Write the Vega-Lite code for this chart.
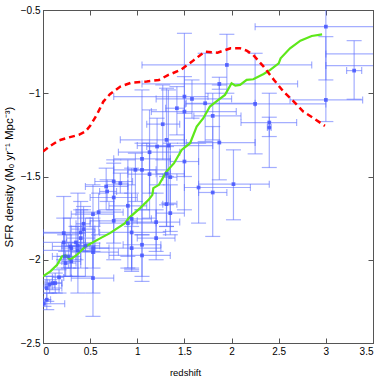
{
  "$schema": "https://vega.github.io/schema/vega-lite/v6.json",
  "width": 330,
  "height": 333,
  "autosize": "none",
  "padding": {"left": 43, "top": 10, "right": 9, "bottom": 39},
  "background": "white",
  "config": {
    "view": {"stroke": "#555555", "strokeWidth": 1},
    "axis": {"grid": false, "domainColor": "#555555", "tickColor": "#555555", "labelColor": "#000000", "labelFont": "Liberation Sans", "labelFontSize": 10, "titleFont": "Liberation Sans", "titleFontWeight": "normal", "titleColor": "#000000", "tickSize": -5, "labelPadding": 8}
  },
  "datasets": {
    "pts": [
      {"z": 3.0, "s": -0.6, "zl": 2.25, "zh": 3.75, "sl": -0.92, "sh": -0.4},
      {"z": 3.0, "s": -1.04, "zl": 2.62, "zh": 3.39, "sl": -1.17, "sh": -0.66},
      {"z": 4.0, "s": -0.764, "zl": 3.0, "zh": 5.0, "sl": -0.9, "sh": -0.6},
      {"z": 4.0, "s": -0.834, "zl": 3.0, "zh": 5.0, "sl": -0.95, "sh": -0.7},
      {"z": 3.3, "s": -0.864, "zl": 3.22, "zh": 3.38, "sl": -1.036, "sh": -0.684},
      {"z": 2.4, "s": -1.176, "zl": 2.1, "zh": 2.69, "sl": -1.26, "sh": -1.144},
      {"z": 2.4, "s": -1.206, "zl": 2.38, "zh": 2.42, "sl": -1.446, "sh": -1.0},
      {"z": 2.25, "s": -1.064, "zl": 1.51, "zh": 3.0, "sl": -1.364, "sh": -0.76},
      {"z": 1.95, "s": -0.83, "zl": 1.05, "zh": 2.85, "sl": -1.0, "sh": -0.646},
      {"z": 1.87, "s": -0.944, "zl": 1.05, "zh": 2.7, "sl": -0.976, "sh": -0.904},
      {"z": 1.72, "s": -1.06, "zl": 1.52, "zh": 2.25, "sl": -1.29, "sh": -0.76},
      {"z": 1.8, "s": -1.136, "zl": 1.6, "zh": 2.1, "sl": -1.28, "sh": -1.0},
      {"z": 1.87, "s": -1.296, "zl": 1.52, "zh": 2.25, "sl": -1.52, "sh": -0.95},
      {"z": 1.5, "s": -1.02, "zl": 0.75, "zh": 1.75, "sl": -1.3, "sh": -0.64},
      {"z": 1.5, "s": -1.11, "zl": 1.15, "zh": 2.05, "sl": -1.5, "sh": -0.9},
      {"z": 1.5, "s": -1.41, "zl": 1.35, "zh": 1.65, "sl": -1.7, "sh": -1.12},
      {"z": 1.58, "s": -1.034, "zl": 1.2, "zh": 2.0, "sl": -1.15, "sh": -0.92},
      {"z": 1.42, "s": -1.09, "zl": 1.3, "zh": 1.5, "sl": -1.25, "sh": -0.96},
      {"z": 1.27, "s": -1.186, "zl": 1.1, "zh": 1.45, "sl": -1.4, "sh": -0.95},
      {"z": 1.31, "s": -1.28, "zl": 0.82, "zh": 1.5, "sl": -1.8, "sh": -0.97},
      {"z": 1.33, "s": -1.314, "zl": 1.0, "zh": 1.8, "sl": -1.66, "sh": -0.98},
      {"z": 1.21, "s": -1.32, "zl": 1.1, "zh": 1.35, "sl": -1.55, "sh": -1.15},
      {"z": 1.13, "s": -1.354, "zl": 0.8, "zh": 1.45, "sl": -1.6, "sh": -1.1},
      {"z": 1.05, "s": -1.394, "zl": 0.75, "zh": 1.35, "sl": -1.85, "sh": -0.98},
      {"z": 0.98, "s": -1.46, "zl": 0.75, "zh": 1.2, "sl": -1.65, "sh": -1.36},
      {"z": 1.05, "s": -1.46, "zl": 0.9, "zh": 1.35, "sl": -1.7, "sh": -1.3},
      {"z": 1.13, "s": -1.486, "zl": 0.9, "zh": 1.35, "sl": -1.75, "sh": -1.3},
      {"z": 1.31, "s": -1.484, "zl": 1.2, "zh": 1.5, "sl": -1.67, "sh": -1.32},
      {"z": 1.35, "s": -1.504, "zl": 1.27, "zh": 1.42, "sl": -1.85, "sh": -1.3},
      {"z": 0.75, "s": -1.53, "zl": 0.55, "zh": 0.95, "sl": -1.7, "sh": -1.4},
      {"z": 0.82, "s": -1.54, "zl": 0.75, "zh": 0.9, "sl": -1.6, "sh": -1.48},
      {"z": 0.67, "s": -1.56, "zl": 0.45, "zh": 0.9, "sl": -1.7, "sh": -1.45},
      {"z": 0.68, "s": -1.59, "zl": 0.6, "zh": 0.78, "sl": -1.65, "sh": -1.52},
      {"z": 0.75, "s": -1.626, "zl": 0.5, "zh": 1.0, "sl": -1.9, "sh": -1.42},
      {"z": 0.59, "s": -1.714, "zl": 0.35, "zh": 0.85, "sl": -1.85, "sh": -1.6},
      {"z": 0.53, "s": -1.726, "zl": 0.3, "zh": 0.75, "sl": -1.9, "sh": -1.55},
      {"z": 0.75, "s": -1.766, "zl": 0.5, "zh": 1.0, "sl": -2.0, "sh": -1.55},
      {"z": 0.9, "s": -1.676, "zl": 0.7, "zh": 1.1, "sl": -1.98, "sh": -1.4},
      {"z": 0.94, "s": -1.754, "zl": 0.75, "zh": 1.15, "sl": -2.06, "sh": -1.45},
      {"z": 0.9, "s": -1.78, "zl": 0.6, "zh": 1.2, "sl": -2.05, "sh": -1.55},
      {"z": 0.94, "s": -1.836, "zl": 0.6, "zh": 1.3, "sl": -2.05, "sh": -1.6},
      {"z": 0.94, "s": -1.93, "zl": 0.55, "zh": 1.25, "sl": -2.07, "sh": -1.8},
      {"z": 1.05, "s": -1.91, "zl": 0.85, "zh": 1.25, "sl": -2.1, "sh": -1.7},
      {"z": 1.05, "s": -1.974, "zl": 0.7, "zh": 1.35, "sl": -2.13, "sh": -1.85},
      {"z": 1.2, "s": -1.774, "zl": 0.95, "zh": 1.45, "sl": -1.95, "sh": -1.6},
      {"z": 1.2, "s": -1.87, "zl": 1.0, "zh": 1.4, "sl": -2.0, "sh": -1.7},
      {"z": 1.35, "s": -1.72, "zl": 1.2, "zh": 1.5, "sl": -1.83, "sh": -1.55},
      {"z": 1.31, "s": -1.666, "zl": 1.27, "zh": 1.42, "sl": -1.8, "sh": -1.5},
      {"z": 0.53, "s": -2.11, "zl": 0.3, "zh": 0.75, "sl": -2.34, "sh": -1.95},
      {"z": 0.53, "s": -1.954, "zl": 0.3, "zh": 0.8, "sl": -2.2, "sh": -1.75},
      {"z": 0.53, "s": -1.93, "zl": 0.35, "zh": 0.7, "sl": -2.05, "sh": -1.8},
      {"z": 0.45, "s": -1.916, "zl": 0.3, "zh": 0.6, "sl": -2.1, "sh": -1.75},
      {"z": 0.22, "s": -1.84, "zl": 0.0, "zh": 0.45, "sl": -2.0, "sh": -1.62},
      {"z": 0.22, "s": -1.896, "zl": 0.0, "zh": 0.4, "sl": -2.05, "sh": -1.75},
      {"z": 0.23, "s": -1.98, "zl": 0.1, "zh": 0.4, "sl": -2.1, "sh": -1.85},
      {"z": 0.24, "s": -2.02, "zl": 0.15, "zh": 0.35, "sl": -2.1, "sh": -1.95},
      {"z": 0.29, "s": -1.92, "zl": 0.1, "zh": 0.5, "sl": -2.1, "sh": -1.75},
      {"z": 0.3, "s": -1.93, "zl": 0.2, "zh": 0.45, "sl": -2.05, "sh": -1.85},
      {"z": 0.37, "s": -1.916, "zl": 0.2, "zh": 0.55, "sl": -2.2, "sh": -1.6},
      {"z": 0.35, "s": -1.896, "zl": 0.25, "zh": 0.45, "sl": -2.0, "sh": -1.8},
      {"z": 0.4, "s": -1.87, "zl": 0.25, "zh": 0.55, "sl": -2.05, "sh": -1.65},
      {"z": 0.4, "s": -1.836, "zl": 0.0, "zh": 0.55, "sl": -1.95, "sh": -1.7},
      {"z": 0.43, "s": -1.784, "zl": 0.35, "zh": 0.5, "sl": -1.9, "sh": -1.68},
      {"z": 0.43, "s": -1.816, "zl": 0.3, "zh": 0.55, "sl": -1.95, "sh": -1.7},
      {"z": 0.37, "s": -1.944, "zl": 0.0, "zh": 0.55, "sl": -2.1, "sh": -1.8},
      {"z": 0.3, "s": -2.01, "zl": 0.2, "zh": 0.4, "sl": -2.1, "sh": -1.92},
      {"z": 0.27, "s": -1.98, "zl": 0.15, "zh": 0.35, "sl": -2.05, "sh": -1.9},
      {"z": 0.17, "s": -2.106, "zl": 0.1, "zh": 0.22, "sl": -2.2, "sh": -2.06},
      {"z": 0.13, "s": -2.14, "zl": 0.05, "zh": 0.2, "sl": -2.2, "sh": -2.08},
      {"z": 0.1, "s": -2.14, "zl": 0.03, "zh": 0.2, "sl": -2.18, "sh": -2.1},
      {"z": 0.07, "s": -2.15, "zl": 0.02, "zh": 0.12, "sl": -2.2, "sh": -2.12},
      {"z": 0.04, "s": -2.17, "zl": 0.0, "zh": 0.2, "sl": -2.25, "sh": -2.1},
      {"z": 0.04, "s": -2.24, "zl": 0.0, "zh": 0.08, "sl": -2.3, "sh": -2.2},
      {"z": 0.01, "s": -2.264, "zl": 0.0, "zh": 0.23, "sl": -2.28, "sh": -2.24},
      {"z": 1.65, "s": -1.566, "zl": 1.5, "zh": 2.2, "sl": -1.78, "sh": -1.3},
      {"z": 1.8, "s": -1.596, "zl": 1.65, "zh": 1.95, "sl": -1.86, "sh": -1.2},
      {"z": 2.02, "s": -1.546, "zl": 1.65, "zh": 2.4, "sl": -1.76, "sh": -1.34}
    ],
    "green": [
      {"z": 0, "s": -2.1}, {"z": 0.078, "s": -2.07}, {"z": 0.15, "s": -2.03}, {"z": 0.2, "s": -1.98},
      {"z": 0.24, "s": -1.974}, {"z": 0.29, "s": -2.0}, {"z": 0.36, "s": -1.97}, {"z": 0.45, "s": -1.92},
      {"z": 0.61, "s": -1.87}, {"z": 0.71, "s": -1.84}, {"z": 0.87, "s": -1.78}, {"z": 0.91, "s": -1.75},
      {"z": 1.03, "s": -1.69}, {"z": 1.12, "s": -1.64}, {"z": 1.16, "s": -1.61}, {"z": 1.17, "s": -1.57},
      {"z": 1.23, "s": -1.55}, {"z": 1.31, "s": -1.47}, {"z": 1.39, "s": -1.42}, {"z": 1.47, "s": -1.34},
      {"z": 1.56, "s": -1.3}, {"z": 1.63, "s": -1.2}, {"z": 1.7, "s": -1.15}, {"z": 1.77, "s": -1.08},
      {"z": 1.86, "s": -1.04}, {"z": 1.93, "s": -1.01}, {"z": 2.0, "s": -0.94}, {"z": 2.04, "s": -0.954},
      {"z": 2.09, "s": -0.95}, {"z": 2.16, "s": -0.92}, {"z": 2.23, "s": -0.916}, {"z": 2.34, "s": -0.884},
      {"z": 2.41, "s": -0.86}, {"z": 2.5, "s": -0.82}, {"z": 2.52, "s": -0.79}, {"z": 2.62, "s": -0.73},
      {"z": 2.73, "s": -0.684}, {"z": 2.85, "s": -0.656}, {"z": 2.96, "s": -0.646}
    ],
    "red": [
      {"z": 0, "s": -1.35}, {"z": 0.078, "s": -1.316}, {"z": 0.166, "s": -1.284}, {"z": 0.27, "s": -1.266},
      {"z": 0.38, "s": -1.25}, {"z": 0.45, "s": -1.23}, {"z": 0.5, "s": -1.196}, {"z": 0.57, "s": -1.13},
      {"z": 0.64, "s": -1.05}, {"z": 0.71, "s": -1.006}, {"z": 0.82, "s": -0.96}, {"z": 0.94, "s": -0.936},
      {"z": 1.1, "s": -0.93}, {"z": 1.23, "s": -0.92}, {"z": 1.33, "s": -0.89}, {"z": 1.46, "s": -0.86},
      {"z": 1.58, "s": -0.81}, {"z": 1.67, "s": -0.77}, {"z": 1.72, "s": -0.75}, {"z": 1.85, "s": -0.756},
      {"z": 1.99, "s": -0.73}, {"z": 2.09, "s": -0.73}, {"z": 2.16, "s": -0.744}, {"z": 2.23, "s": -0.77},
      {"z": 2.34, "s": -0.84}, {"z": 2.45, "s": -0.92}, {"z": 2.55, "s": -0.99}, {"z": 2.66, "s": -1.05},
      {"z": 2.76, "s": -1.11}, {"z": 2.87, "s": -1.15}, {"z": 2.99, "s": -1.196}
    ]
  },
  "layer": [
    {
      "data": {"name": "pts"},
      "mark": {"type": "rule", "color": "#5a6cff", "opacity": 0.55, "strokeWidth": 1.2, "clip": true},
      "encoding": {
        "x": {"field": "zl", "type": "quantitative", "scale": {"domain": [0, 3.5], "nice": false, "zero": false},
              "axis": {"orient": "bottom", "values": [0, 0.5, 1, 1.5, 2, 2.5, 3, 3.5], "format": "~g", "title": "redshift", "titleFontSize": 9.5, "titlePadding": 11, "titleX": 142, "titleAlign": "center"}},
        "x2": {"field": "zh"},
        "y": {"field": "s", "type": "quantitative", "scale": {"domain": [-2.5, -0.5], "nice": false, "zero": false},
              "axis": {"orient": "left", "values": [-2.5, -2, -1.5, -1, -0.5], "format": "~g", "title": "SFR density (Mₒ yr⁻¹ Mpc⁻³)", "titleFontSize": 11.5, "titlePadding": 6}}
      }
    },
    {
      "data": {"name": "pts"},
      "mark": {"type": "rule", "color": "#5a6cff", "opacity": 0.55, "strokeWidth": 1.2, "clip": true},
      "encoding": {
        "x": {"field": "z", "type": "quantitative", "axis": null},
        "y": {"field": "sl", "type": "quantitative", "axis": null},
        "y2": {"field": "sh"}
      }
    },
    {
      "data": {"name": "pts"},
      "mark": {"type": "tick", "orient": "horizontal", "color": "#5a6cff", "opacity": 0.55, "thickness": 1.2, "size": 15, "clip": true},
      "encoding": {
        "x": {"field": "z", "type": "quantitative", "axis": null},
        "y": {"field": "sl", "type": "quantitative", "axis": null}
      }
    },
    {
      "data": {"name": "pts"},
      "mark": {"type": "tick", "orient": "horizontal", "color": "#5a6cff", "opacity": 0.55, "thickness": 1.2, "size": 15, "clip": true},
      "encoding": {
        "x": {"field": "z", "type": "quantitative", "axis": null},
        "y": {"field": "sh", "type": "quantitative", "axis": null}
      }
    },
    {
      "data": {"name": "pts"},
      "mark": {"type": "tick", "orient": "vertical", "color": "#5a6cff", "opacity": 0.55, "thickness": 1.2, "size": 7, "clip": true},
      "encoding": {
        "x": {"field": "zl", "type": "quantitative", "axis": null},
        "y": {"field": "s", "type": "quantitative", "axis": null}
      }
    },
    {
      "data": {"name": "pts"},
      "mark": {"type": "tick", "orient": "vertical", "color": "#5a6cff", "opacity": 0.55, "thickness": 1.2, "size": 7, "clip": true},
      "encoding": {
        "x": {"field": "zh", "type": "quantitative", "axis": null},
        "y": {"field": "s", "type": "quantitative", "axis": null}
      }
    },
    {
      "data": {"name": "green"},
      "mark": {"type": "line", "color": "#5ee81a", "strokeWidth": 2.2, "clip": true},
      "encoding": {
        "x": {"field": "z", "type": "quantitative", "axis": null},
        "y": {"field": "s", "type": "quantitative", "axis": null}
      }
    },
    {
      "data": {"name": "red"},
      "mark": {"type": "line", "color": "#ff0000", "strokeWidth": 2.5, "strokeDash": [6, 4], "clip": true},
      "encoding": {
        "x": {"field": "z", "type": "quantitative", "axis": null},
        "y": {"field": "s", "type": "quantitative", "axis": null}
      }
    },
    {
      "data": {"name": "pts"},
      "mark": {"type": "square", "color": "#4455ff", "opacity": 0.85, "size": 14, "filled": true, "clip": true},
      "encoding": {
        "x": {"field": "z", "type": "quantitative", "axis": {"orient": "top", "values": [0, 0.5, 1, 1.5, 2, 2.5, 3, 3.5], "labels": false, "title": null}},
        "y": {"field": "s", "type": "quantitative", "axis": {"orient": "right", "values": [-2.5, -2, -1.5, -1, -0.5], "labels": false, "title": null}}
      }
    }
  ],
  "resolve": {"axis": {"x": "independent", "y": "independent"}}
}
